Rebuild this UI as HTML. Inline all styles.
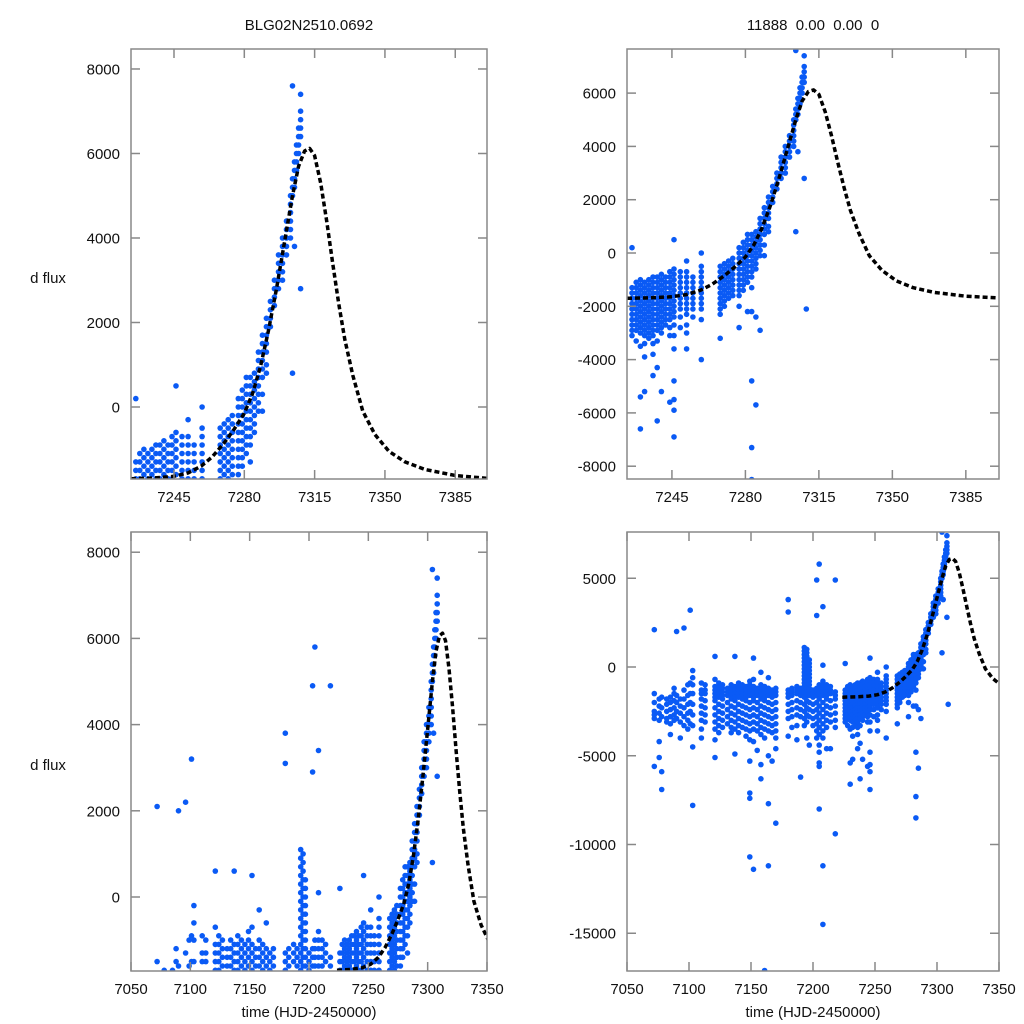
<!DOCTYPE html>
<html><head><meta charset="utf-8"><style>
html,body{margin:0;padding:0;background:#fff;overflow:hidden;width:1024px;height:1024px;}
svg{display:block;}
svg text{font-family:"Liberation Sans",sans-serif;fill:#111;}
</style></head><body>
<svg id="chart" width="1024" height="1024" xmlns="http://www.w3.org/2000/svg">
<rect width="1024" height="1024" fill="#fff"/>
<text x="309" y="30" font-size="15" text-anchor="middle">BLG02N2510.0692</text>
<text x="813" y="30" font-size="15" text-anchor="middle" xml:space="preserve">11888  0.00  0.00  0</text>
<text x="48" y="283" font-size="15" text-anchor="middle">d flux</text>
<text x="48" y="770" font-size="15" text-anchor="middle">d flux</text>
<text x="309" y="1017" font-size="15" text-anchor="middle">time (HJD-2450000)</text>
<text x="813" y="1017" font-size="15" text-anchor="middle">time (HJD-2450000)</text>
</svg>
<script>
const colT=[7072,7076,7078,7082,7085,7088,7090,7093,7096,7099,7101,7103,7110,7113,7121,7124,7127,7131,7134,7137,7140,7143,7146,7149,7152,7155,7158,7161,7164,7167,7170,7180,7183,7187,7190,7193,7195,7197,7200,7203,7205,7208,7211,7214,7218,
7226,7228,7230,7232,7234,7236,7238,7240,7242,7244,7246,7249,7252,7255,7259,7268,7270,7272,7274,7277,7279,7281,7283,7285,7287,7289,7291,7293,7295,7297,7299,7301,7303,7304,7305,7306,7307,7308,7309];
const colF=[
[-1500,-2000,-2500,-2700,-2900,2100,-5600],
[-1800,-2200,-2600,-3000,-4200,-5100],
[-1700,-2300,-2800,-5900,-6900],
[-1800,-2100,-2500,-2900,-3100],
[-1700,-2000,-2400,-2800,-3200,-3800],
[-1500,-1900,-2300,-2700,-3000,-1200],
[-1600,-2000,-2500,-2900,2000],
[-1800,-2200,-2600,-3100,-4000],
[-1300,-1800,-2300,-2800,-3300,2200],
[-1000,-1600,-2100,-2600,-3000,-3500],
[-900,-1500,-2000,-2500,-3200,3200],
[-200,-600,-1000,-1500,-2100,-2700,-3300,-4500,-7800],
[-900,-1300,-1500,-1800,-2200,-2600,-3000,-3500,-4000],
[-1000,-1300,-1500,-1900,-2300,-2700,-3100],
[-700,-1100,-1300,-1500,-1700,-1900,-2300,-2700,-3100,-3500,-4100,-5100,600],
[-900,-1100,-1300,-1500,-1700,-2100,-2500,-2900,-3300,-3700],
[-1000,-1200,-1400,-1600,-1800,-2200,-2600,-3000,-3400],
[-1200,-1400,-1600,-2000,-2400,-2800,-3200],
[-1000,-1200,-1400,-1600,-1800,-2200,-2600,-3000,-3400,-3700],
[-1100,-1300,-1500,-1700,-1900,-2300,-2700,-3100,-3500,-4900,600],
[-900,-1100,-1300,-1500,-1700,-2100,-2500,-2900,-3300,-3700],
[-1000,-1200,-1400,-1600,-1800,-2200,-2600,-3000,-3400],
[-1100,-1300,-1500,-1700,-1900,-2300,-2700,-3100,-3500,-3900],
[-800,-1000,-1200,-1400,-1600,-2000,-2400,-2800,-3200,-3600,-4100,-5300,-7100,-7400,-10700],
[-700,-1100,-1300,-1500,-1700,-1900,-2300,-2700,-3100,-3500,-4200,500,-11400],
[-1200,-1400,-1600,-2000,-2400,-2800,-3200,-3600,-4700],
[-300,-1000,-1200,-1400,-1600,-1800,-2200,-2600,-3000,-3400,-3800,-5500,-6300],
[-1100,-1300,-1500,-1700,-1900,-2300,-2700,-3100,-3500,-4000,-17100],
[-600,-1200,-1400,-1600,-2000,-2400,-2800,-3200,-3600,-5000,-7700,-11200],
[-1300,-1500,-1700,-2100,-2500,-2900,-3300,-3700,-5300],
[-1200,-1400,-1600,-2000,-2400,-2800,-3200,-3600,-4000,-4600,-8800],
[-1300,-1500,-1700,-2100,-2500,-2900,-3900,3800,3100],
[-1200,-1400,-1600,-2000,-2400,-2800,-3400],
[-1100,-1300,-1500,-1900,-2300,-2700,-3300,-4100],
[-1200,-1400,-1600,-2000,-2400,-2800,-6200],
[1100,900,700,500,300,100,-100,-300,-500,-700,-900,-1100,-1300,-1500,-1700,-2100,-2500,-2900,-3300],
[1000,800,600,400,200,0,-200,-400,-600,-800,-1000,-1200,-1400,-1600,-1900,-2300,-2700,-3100,-4000],
[400,200,0,-200,-400,-600,-800,-1000,-1200,-1400,-1600,-2000,-2400,-2800,-4400],
[-1300,-1500,-1700,-2100,-2500,-2900,-3300],
[-1200,-1400,-1600,-2000,-2400,-2800,-3200,-3600,-4000,4900,2900],
[-1000,-1200,-1400,-1600,-1800,-2200,-2600,-3000,-3400,-3800,-4400,-4800,-5400,-5600,-8000,5800],
[-800,-1000,-1200,-1400,-1600,-2000,-2400,-2800,-3200,-3600,-4000,-11200,-14500,3400,100],
[-1000,-1200,-1400,-1600,-1800,-2200,-2600,-3000,-3400,-4600],
[-1100,-1300,-1500,-1900,-2300,-2700,-3100,-4600],
[-1400,-1600,-1800,-2200,-2600,-3000,-3400,-9400,4900],
[-1300,-1500,-1700,-1900,-2100,-2300,-2500,-2700,-2900,-3100,200],
[-1100,-1300,-1500,-1700,-1900,-2100,-2300,-2500,-2700,-2900,-3300],
[-1000,-1200,-1400,-1600,-1800,-2000,-2200,-2400,-2600,-2800,-3000,-3500,-5400,-6600],
[-1100,-1300,-1500,-1700,-1900,-2100,-2300,-2500,-2700,-2900,-3100,-3400,-3900,-5200],
[-1000,-1200,-1400,-1600,-1800,-2000,-2200,-2400,-2600,-2800,-3000,-3200],
[-900,-1100,-1300,-1500,-1700,-1900,-2100,-2300,-2500,-2700,-2900,-3100,-3400,-3800,-4600],
[-900,-1100,-1300,-1500,-1700,-1900,-2100,-2300,-2500,-2700,-2900,-3300,-4300,-6300],
[-800,-1000,-1200,-1400,-1600,-1800,-2000,-2200,-2400,-2600,-2800,-3000,-5200],
[-900,-1100,-1300,-1500,-1700,-1900,-2100,-2300,-2500,-2700],
[-700,-900,-1100,-1300,-1500,-1700,-1900,-2100,-2300,-2500,-2800,-3100,-5600],
[-600,-800,-1000,-1200,-1400,-1600,-1800,-2000,-2200,-2400,-2700,-3100,-3600,-6900,-4800,-5500,-5900,500],
[-700,-900,-1100,-1300,-1500,-1700,-1900,-2100,-2400,-2800],
[-300,-700,-900,-1100,-1300,-1500,-1700,-1900,-2100,-2300,-2700,-3000,-3600],
[-900,-1100,-1300,-1500,-1700,-1900,-2100,-2400],
[0,-500,-700,-900,-1100,-1300,-1500,-1700,-1900,-2100,-2500,-4000],
[-500,-700,-900,-1100,-1300,-1500,-1700,-1900,-2100,-2300,-3200],
[-400,-600,-800,-1000,-1200,-1400,-1600,-1800,-2000],
[-300,-500,-700,-900,-1100,-1300,-1500,-1700],
[-200,-400,-600,-800,-1000,-1200,-1400,-1600],
[200,0,-200,-400,-600,-800,-1000,-1200,-1400,-1600,-2000,-2800],
[400,200,0,-200,-400,-600,-800,-1000,-1200,-1400],
[700,500,300,100,-100,-300,-500,-700,-900,-1100,-2200],
[700,500,300,100,-100,-300,-500,-700,-900,-1300,-2200,-4800,-7300,-8500],
[800,600,400,200,0,-200,-400,-600,-2400,-5700],
[1300,1100,900,700,500,300,100,-100,-2900],
[1700,1500,1300,1100,900,700,300,-100],
[2100,1900,1700,1500,1300,1000,800],
[2500,2300,2100,1900],
[3000,2800,2600,2400],
[3600,3400,3200,3000,2800],
[4000,3800,3600,3400,3200,3000],
[4400,4200,4000,3800,3600],
[5000,4800,4600,4400,4200,4000],
[5400,5200,5000,800,7600],
[5800,5600,5400,5200,3800],
[6200,6000,5800,5600],
[6600,6400,6200,6000],
[7000,6800,6600,6400,7400,2800],
[-2100]];
const curveT=[7223.6,7235,7245,7252,7258.5,7264,7270,7275,7280,7284,7288,7292,7296,7300,7304,7307,7310,7312.5,7315,7318,7321,7324,7327,7330,7334,7339,7345,7352,7360,7370,7385,7401];
const curveF=[-1700,-1680,-1640,-1560,-1400,-1180,-850,-520,-150,300,950,1800,2800,3900,5000,5700,6060,6120,5950,5300,4400,3400,2450,1600,750,-100,-650,-1050,-1300,-1480,-1620,-1690];
const topXTicks=[7245,7280,7315,7350,7385];
const botXTicks=[7050,7100,7150,7200,7250,7300,7350];
const tlYTicks=[0,2000,4000,6000,8000];
const trYTicks=[-8000,-6000,-4000,-2000,0,2000,4000,6000];
const blYTicks=[0,2000,4000,6000,8000];
const brYTicks=[-15000,-10000,-5000,0,5000];

const NS='http://www.w3.org/2000/svg';
const svg=document.getElementById('chart');
function mk(tag,attrs){const e=document.createElementNS(NS,tag);for(const k in attrs)e.setAttribute(k,attrs[k]);return e;}
const panels=[
{id:'top-left',px0:131,px1:487,py0:49,py1:479,t0:7223.6,t1:7400.8,f0:-1704,f1:8473,xt:topXTicks,yt:tlYTicks},
{id:'top-right',px0:627,px1:999,py0:49,py1:479,t0:7223.6,t1:7400.8,f0:-8480,f1:7655,xt:topXTicks,yt:trYTicks},
{id:'bottom-left',px0:131,px1:487,py0:532,py1:971,t0:7050,t1:7350,f0:-1717,f1:8469,xt:botXTicks,yt:blYTicks},
{id:'bottom-right',px0:627,px1:999,py0:532,py1:971,t0:7050,t1:7350,f0:-17127,f1:7606,xt:botXTicks,yt:brYTicks}];
panels.forEach(p=>{
  const X=t=>p.px0+(t-p.t0)/(p.t1-p.t0)*(p.px1-p.px0);
  const Y=f=>p.py1-(f-p.f0)/(p.f1-p.f0)*(p.py1-p.py0);
  const g=mk('g',{});
  
  
  svg.appendChild(g);
  const cp=mk('clipPath',{id:'clip-'+p.id});
  cp.appendChild(mk('rect',{x:p.px0,y:p.py0,width:p.px1-p.px0,height:p.py1-p.py0}));
  g.appendChild(cp);
  const pts=mk('g',{'clip-path':'url(#clip-'+p.id+')',fill:'#0a5af5'});
  
  
  g.appendChild(pts);
  colT.forEach((t,i)=>{colF[i].forEach(f=>{
    const cx=X(t),cy=Y(f);
    if(cx<p.px0-3||cx>p.px1+3||cy<p.py0-3||cy>p.py1+3)return;
    const c=mk('circle',{cx:cx.toFixed(1),cy:cy.toFixed(1),r:2.8});
    
    
    pts.appendChild(c);});});
  const d=curveT.map((t,i)=>(i?'L':'M')+X(t).toFixed(1)+','+Y(curveF[i]).toFixed(1)).join('');
  const line=mk('path',{d:d,fill:'none',stroke:'#000','stroke-width':3.5,'stroke-dasharray':'5,3','stroke-linejoin':'round','clip-path':'url(#clip-'+p.id+')'});
  
  
  g.appendChild(line);
  const fr=mk('rect',{x:p.px0,y:p.py0,width:p.px1-p.px0,height:p.py1-p.py0,fill:'none',stroke:'#888','stroke-width':1.5});
  
  
  g.appendChild(fr);
  p.xt.forEach(t=>{const x=X(t);
    g.appendChild(mk('line',{x1:x,x2:x,y1:p.py1,y2:p.py1-9,stroke:'#888','stroke-width':1.5}));
    g.appendChild(mk('line',{x1:x,x2:x,y1:p.py0,y2:p.py0+9,stroke:'#888','stroke-width':1.5}));
    const tx=mk('text',{x:x,y:p.py1+23,'font-size':15,'text-anchor':'middle'});
    
    
    tx.textContent=t;g.appendChild(tx);});
  p.yt.forEach(f=>{const y=Y(f);
    g.appendChild(mk('line',{x1:p.px0,x2:p.px0+9,y1:y,y2:y,stroke:'#888','stroke-width':1.5}));
    g.appendChild(mk('line',{x1:p.px1,x2:p.px1-9,y1:y,y2:y,stroke:'#888','stroke-width':1.5}));
    const tx=mk('text',{x:p.px0-11,y:y+5.5,'font-size':15,'text-anchor':'end'});
    
    
    tx.textContent=f;g.appendChild(tx);});
});
</script>
</body></html>
